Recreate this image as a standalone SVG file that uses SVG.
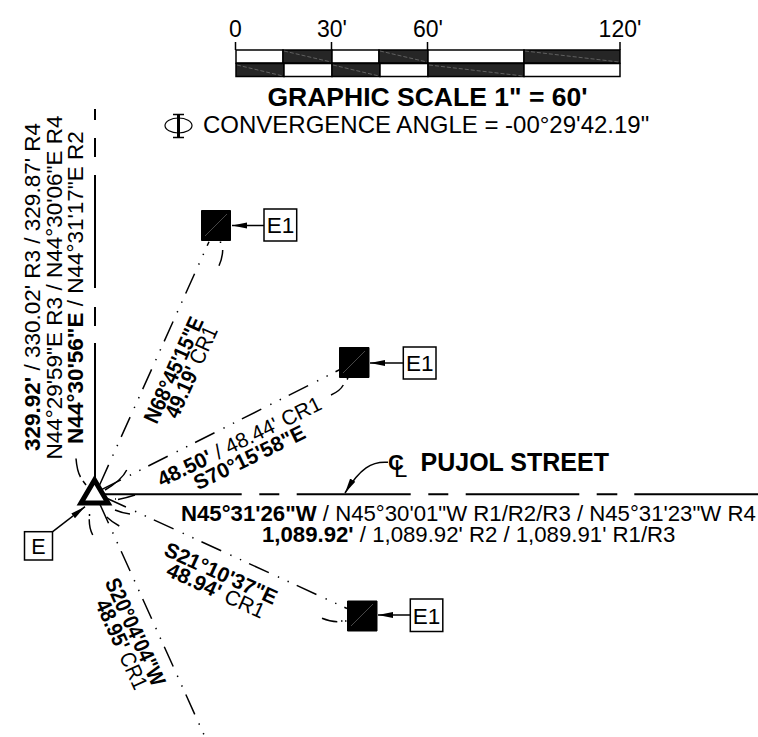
<svg xmlns="http://www.w3.org/2000/svg" width="758" height="737" viewBox="0 0 758 737">
<style>
text{font-family:"Liberation Sans",Arial,sans-serif;fill:#000}
.b{font-weight:bold}
.s{font-size:21px}
.t{font-size:22px}
.v{font-size:22.500px}
.h{font-size:22.200px}
.e{font-size:22.500px}
.m{text-anchor:middle}
.ln{fill:none;stroke:#000;stroke-width:1.5}
.dd{stroke-dasharray:21.7 10 1.4 9.2 1.4 8.7}
.arc{fill:none;stroke:#000;stroke-width:1.5}
.box{fill:#fff;stroke:#000;stroke-width:1.5}
.hatch{stroke:#888;stroke-width:.6;stroke-dasharray:4 2;fill:none}
.sq{fill:#000;stroke:#000;stroke-width:1;stroke-linejoin:round}
.cell{stroke:#000;stroke-width:1.5}
</style>
<defs>
<marker id="ah" markerUnits="userSpaceOnUse" markerWidth="16" markerHeight="8" refX="15" refY="4" orient="auto"><path d="M0 1L15 4L0 7Z" fill="#000"/></marker>
</defs>
<rect width="758" height="737" fill="#fff"/>
<g id="scale">
<g class="cell">
<rect x="236" y="50" width="47" height="13" fill="#fff"/><rect x="283" y="50" width="49" height="13" fill="#262626"/>
<rect x="332" y="50" width="47" height="13" fill="#fff"/><rect x="379" y="50" width="49" height="13" fill="#262626"/>
<rect x="428" y="50" width="96" height="13" fill="#fff"/><rect x="524" y="50" width="96" height="13" fill="#262626"/>
<rect x="236" y="63.500" width="48" height="13" fill="#262626"/><rect x="284" y="63.500" width="48" height="13" fill="#fff"/>
<rect x="332" y="63.500" width="48" height="13" fill="#262626"/><rect x="380" y="63.500" width="48" height="13" fill="#fff"/>
<rect x="428" y="63.500" width="96" height="13" fill="#262626"/><rect x="524" y="63.500" width="96" height="13" fill="#fff"/>
</g>
<path class="hatch" d="M284 51L331 62M380 51L427 62M525 51L619 62M237 65L283 76M333 65L379 76M429 65L523 76"/>
<path d="M235.500 42V50M331.500 42V50M427.500 42V50M620 42V50" stroke="#000" stroke-width="1.500" fill="none"/>
<text x="235.500" y="37" class="m" font-size="23">0</text>
<text x="332" y="37" class="m" font-size="23">30'</text>
<text x="428" y="37" class="m" font-size="23">60'</text>
<text x="620" y="37" class="m" font-size="23">120'</text>
<text x="427.500" y="106" class="m b" font-size="26.500">GRAPHIC SCALE 1" = 60'</text>
<ellipse cx="178.500" cy="125.500" rx="13.500" ry="7.500" fill="none" stroke="#000" stroke-width="1.200"/>
<path d="M173 114.500H184M173 137.500H184" fill="none" stroke="#000" stroke-width="1.600"/>
<path d="M178.500 115V137" stroke="#000" stroke-width="3"/>
<text x="203" y="133" font-size="24">CONVERGENCE ANGLE = -00°29'42.19"</text>
</g>
<g id="connectors">
<path class="ln" style="stroke-width:2" d="M95 109V120M95 138V157M95 175V288M95 307V326M95 343V478"/>
<path class="ln" style="stroke-width:2" d="M100 494.300H241.700M259.300 494.300H279.300M296.700 494.300H410.700M428.300 494.300H448.300M465.700 494.300H579.300M596.700 494.300H617.300M634.300 494.300H758"/>
<path class="ln dd" d="M99.700 484.700L209 241.700"/>
<path class="ln dd" d="M101.500 489.600L345 367"/>
<path class="ln dd" d="M106.200 498L347 608.500"/>
<path class="ln dd" d="M99.600 503.500L205 737"/>
<path class="arc" d="M76 458.500Q77 471 80.500 477M83 481L86 485M222.700 250Q222.500 258 219 265.700M220.500 241.500V243"/>
<path class="arc" d="M126.700 470Q122 480 105 490M135 495Q126 498 118 499.500M115 499H116M331 395Q340 391 343.300 385M348 378L347 379.500"/>
<path class="arc" d="M115 510Q122 513 130 514M106.700 517Q112 522 119.300 526M322 618.300Q330 621.700 337.300 621.700M341 621H342.500M345 621H346.500M89.300 519.300Q89 528 92.700 535M89.500 514V516"/>
<path class="ln" marker-end="url(#ah)" d="M264 225.500H232"/>
<path class="ln" marker-end="url(#ah)" d="M403 363H370"/>
<path class="ln" marker-end="url(#ah)" d="M410 615H378"/>
<path class="ln" marker-end="url(#ah)" d="M52.700 531.700L85 506.700"/>
<path class="ln" marker-end="url(#ah)" d="M388 462.300C372 461 360 468 345 493"/>
</g>
<g id="node-E"><polygon points="94.500,480 81,503 108,503" fill="#fff" stroke="#000" stroke-width="5"/>
<rect class="box" x="24.500" y="531.700" width="28" height="28.300"/><text x="38.500" y="553.500" class="m" font-size="21.500">E</text></g>
<g id="node-E1-a"><rect class="sq" x="201.500" y="210.500" width="29" height="30"/><path d="M205 236L227 214" stroke="#777" stroke-width=".6"/>
<rect class="box" x="264" y="209" width="32.700" height="32"/><text x="280.500" y="233" class="m e">E1</text></g>
<g id="node-E1-b"><rect class="sq" x="339.500" y="347.500" width="29.500" height="30"/><path d="M343 373L365 351" stroke="#777" stroke-width=".6"/>
<rect class="box" x="403.300" y="347" width="32.700" height="32"/><text x="419.700" y="371" class="m e">E1</text></g>
<g id="node-E1-c"><rect class="sq" x="347.500" y="601" width="29.500" height="30"/><path d="M351 626L373 604" stroke="#777" stroke-width=".6"/>
<rect class="box" x="410.300" y="599" width="32.500" height="32.500"/><text x="426.500" y="623.500" class="m e">E1</text></g>
<g id="labels">
<g class="v">
<text transform="translate(40,287) rotate(-90)" class="m"><tspan class="b">329.92'</tspan> / 330.02' R3 / 329.87' R4</text>
<text transform="translate(62,287.500) rotate(-90)" class="m">N44°29'59"E R3 / N44°30'06"E R4</text>
<text transform="translate(83,287.500) rotate(-90)" class="m"><tspan class="b">N44°30'56"E</tspan> / N44°31'17"E R2</text>
</g>
<g class="t">
<text transform="translate(180.500,373) rotate(-65.500) scale(.89 1)" class="m b">N68°45'15"E</text>
<text transform="translate(198,375) rotate(-65.500) scale(.89 1)" class="m"><tspan class="b">49.19'</tspan> CR1</text>
<text transform="translate(128.500,635) rotate(65.500) scale(.87 1)" class="m b">S20°04'04"W</text>
<text transform="translate(114.700,647.500) rotate(65.500) scale(.87 1)" class="m"><tspan class="b">48.95'</tspan> CR1</text>
</g>
<g class="s">
<text transform="translate(242.500,448) rotate(-26)" class="m"><tspan class="b">48.50'</tspan> / 48.44' CR1</text>
<text transform="translate(252.500,464) rotate(-26)" class="m b">S70°15'58"E</text>
<text transform="translate(218,580) rotate(24.500)" class="m b">S21°10'37"E</text>
<text transform="translate(213,597) rotate(24.500)" class="m"><tspan class="b">48.94'</tspan> CR1</text>
</g>
<g class="h">
<text x="181" y="521"><tspan class="b">N45°31'26"W</tspan> / N45°30'01"W R1/R2/R3 / N45°31'23"W R4</text>
<text x="262" y="541.700"><tspan class="b">1,089.92'</tspan> / 1,089.92' R2 / 1,089.91' R1/R3</text>
</g>
<text x="420.500" y="471" class="b" font-size="25">PUJOL STREET</text>
<text x="388" y="470" font-size="22" class="b">C</text>
<text x="394" y="477" font-size="24">L</text>
</g>
</svg>
